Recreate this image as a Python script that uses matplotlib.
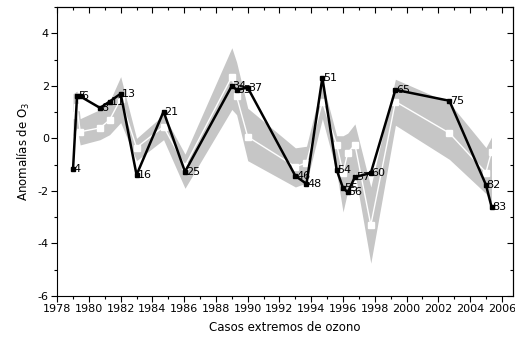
import matplotlib
matplotlib.use("Agg")
import matplotlib.pyplot as plt
from matplotlib.ticker import MultipleLocator

plt.rcParams['axes.unicode_minus'] = False

ids = ['4', '5', '6', '8', '11', '13', '16', '21', '25', '34', '35', '37', '46', '48',
       '51', '54', '55', '56', '57', '60', '65', '75', '82', '83']
years = [1979.0, 1979.25, 1979.45, 1980.7, 1981.3, 1982.0, 1983.0, 1984.7, 1986.05,
         1989.0, 1989.3, 1990.0, 1993.0, 1993.7, 1994.7, 1995.6, 1996.0, 1996.3,
         1996.75, 1997.75, 1999.3, 2002.7, 2005.0, 2005.35]
observed = [-1.16, 1.6, 1.6, 1.16, 1.4, 1.7, -1.39, 1.02, -1.27, 2.0, 1.85, 1.93,
            -1.43, -1.73, 2.31, -1.2, -1.89, -2.05, -1.47, -1.32, 1.85, 1.43, -1.77, -2.6]
mean = [0.9, 1.2, 0.25, 0.4, 0.7, 1.5, -0.35, 0.45, -1.05, 2.35, 1.6, 0.06, -1.08,
        -0.93, 1.4, -0.24, -1.3, -0.55, -0.24, -3.3, 1.4, 0.2, -1.3, -0.5]
lower = [0.1, 0.4, -0.25, -0.05, 0.14, 0.6, -0.85, -0.05, -1.9, 1.1, 0.9, -0.85,
         -1.85, -1.7, 0.75, -1.3, -2.8, -2.0, -1.3, -4.75, 0.5, -0.8, -2.1, -2.45]
upper = [1.7, 1.8, 0.75, 1.1, 1.4, 2.35, 0.0, 0.9, -0.6, 3.45, 2.9, 1.15, -0.36,
         -0.3, 2.15, 0.1, 0.1, 0.2, 0.55, -1.85, 2.25, 1.35, -0.35, 0.05]

fig = plt.figure(figsize=(5.15, 3.42), dpi=100)
ax = fig.add_axes([0.111, 0.1345, 0.885, 0.845])

ax.fill_between(years, lower, upper, color='#c6c6c6', linewidth=0, zorder=1)
ax.plot(years, mean, color='white', lw=1.0, marker='s', ms=4, mfc='white',
        mec='white', zorder=2)
ax.plot(years, observed, color='black', lw=1.8, marker='s', ms=3.2, zorder=3)
for lab, x, y in zip(ids, years, observed):
    ax.text(x + 0.05, y, lab, fontsize=8, va='center', ha='left', zorder=4)

ax.set_xlim(1978, 2006.7)
ax.set_ylim(-6, 5)
ax.xaxis.set_major_locator(MultipleLocator(2))
ax.xaxis.set_minor_locator(MultipleLocator(1))
ax.yaxis.set_major_locator(MultipleLocator(2))
ax.yaxis.set_minor_locator(MultipleLocator(1))
ax.tick_params(which='major', direction='out', length=4, width=0.8, labelsize=8, pad=2)
ax.tick_params(which='minor', direction='out', length=2.5, width=0.8)

top = ax.secondary_xaxis('top')
top.xaxis.set_major_locator(MultipleLocator(2))
top.xaxis.set_minor_locator(MultipleLocator(1))
top.tick_params(which='major', direction='in', length=4, width=0.8, labeltop=False)
top.tick_params(which='minor', direction='in', length=2.5, width=0.8)
right = ax.secondary_yaxis('right')
right.yaxis.set_major_locator(MultipleLocator(2))
right.yaxis.set_minor_locator(MultipleLocator(1))
right.tick_params(which='major', direction='in', length=4, width=0.8, labelright=False)
right.tick_params(which='minor', direction='in', length=2.5, width=0.8)

ax.set_xlabel('Casos extremos de ozono', fontsize=8.5, labelpad=5)
ax.set_ylabel('Anomalías de O$_3$', fontsize=8.5, labelpad=4)

fig.savefig('out.png', dpi=100)
